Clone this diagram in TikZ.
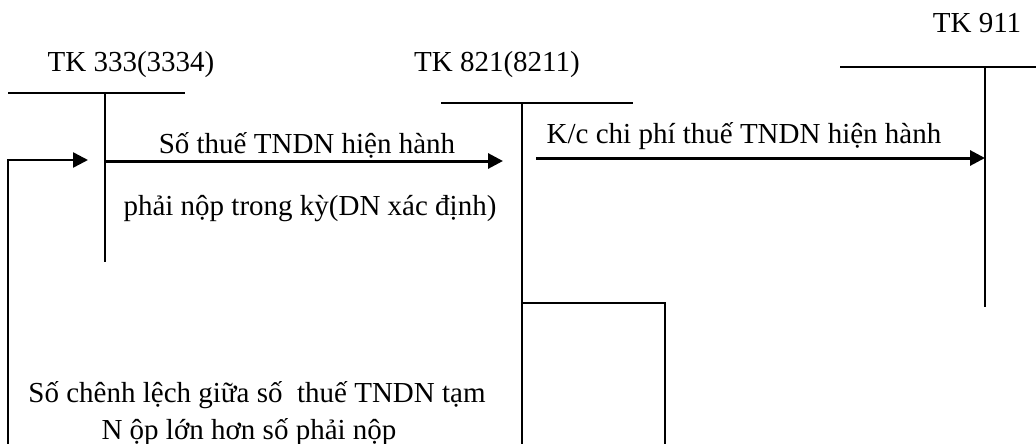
\documentclass[tikz,border=0pt]{standalone}
\usepackage{fontspec}
\setmainfont{Liberation Serif}
\usetikzlibrary{arrows.meta}

\begin{document}
\begin{tikzpicture}[x=1pt, y=-1pt,
  tbar/.style={line width=2.5pt},
  flow/.style={line width=3pt, -{Triangle[length=15pt,width=15pt]}},
  lbl/.style={anchor=base, inner sep=0pt, font=\fontsize{29}{34}\selectfont}]

\useasboundingbox (0,0) rectangle (1036,444);

%Account names
\node[lbl] (tk333) at (131,71) {TK 333(3334)};
\node[lbl] (tk821) at (497,72) {TK 821(8211)};
\node[lbl] (tk911) at (977,33) {TK 911};

% T-account corners
\coordinate (t333L) at (8,93);   \coordinate (t333R) at (185,93);
\coordinate (t333T) at (105,93); \coordinate (t333B) at (105,262);
\coordinate (t821L) at (441,103); \coordinate (t821R) at (633,103);
\coordinate (t821T) at (522,103); \coordinate (t821B) at (522,444);
\coordinate (t911L) at (840,67);  \coordinate (t911R) at (1036,67);
\coordinate (t911T) at (985,67);  \coordinate (t911B) at (985,307);

%Draw the T-accounts
\draw[tbar] (t333L) -- (t333R);
\draw[tbar] (t333T) -- (t333B);
\draw[tbar] (t821L) -- (t821R);
\draw[tbar] (t821T) -- (t821B);
\draw[tbar] (t911L) -- (t911R);
\draw[tbar] (t911T) -- (t911B);

% Flow 333 -> 821
\coordinate (f1s) at (105,161);
\coordinate (f1e) at (503,161);
\draw[flow] (f1s) -- (f1e);
\node[lbl] (thue) at (307,153) {Số thuế TNDN hiện hành};
\node[lbl] (phainop) at (310,215) {phải nộp trong kỳ(DN xác định)};

% Flow 821 -> 911
\coordinate (f2s) at (536,158);
\coordinate (f2e) at (985,158);
\draw[flow] (f2s) -- (f2e);
\node[lbl] (kc) at (744,143) {K/c chi phí thuế TNDN hiện hành};

%Difference back from 821 to 333
\coordinate (d1) at (522,303);
\coordinate (d2) at (665,303);
\coordinate (d3) at (665,444);
\draw[tbar] (d1) -- (d2) -- (d3);
\coordinate (l1) at (8,444);
\coordinate (l2) at (8,160);
\coordinate (l3) at (88,160);
\draw[tbar, -{Triangle[length=15pt,width=15pt]}] (l1) -- (l2) -- (l3);
\node[lbl] (chenh1) at (257,402) {Số chênh lệch giữa số~ thuế TNDN tạm};
\node[lbl] (chenh2) at (249,439) {N ộp lớn hơn số phải nộp};

\end{tikzpicture}
\end{document}
